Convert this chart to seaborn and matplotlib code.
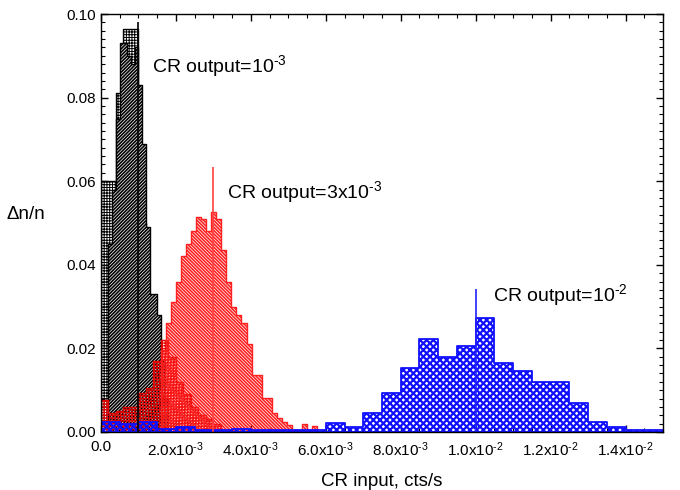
import numpy as np
import pandas as pd
import matplotlib
matplotlib.use('Agg')
import matplotlib.pyplot as plt
from matplotlib.ticker import MultipleLocator
import seaborn as sns

# Histograms: bin start and width in units of 1e-3 cts/s, then dn/n per bin
# CR output = 1e-3 (black, two overlapping histograms)
black_box_start, black_box_width = 0.0, 0.2
black_box_vals = [0.060, 0.060, 0.081, 0.0964, 0.0964, 0.050]
black_diag_start, black_diag_width = 0.2, 0.1
black_diag_vals = [0.045, 0.058, 0.075, 0.093, 0.093, 0.090, 0.088, 0.092,
                   0.083, 0.069, 0.049, 0.033, 0.033, 0.028, 0.017, 0.008]

# CR output = 3e-3 (red)
red_box_start, red_box_width = 0.0, 0.2
red_box_vals = [0.0077, 0.0045, 0.0050, 0.0060, 0.0060, 0.0093, 0.0105,
                0.017, 0.022, 0.018, 0.012, 0.009, 0.006, 0.004, 0.003, 0.002]
red_diag_start, red_diag_width = 1.59, 0.135
red_diag_vals = [0.0196, 0.026, 0.031, 0.036, 0.042, 0.045, 0.048, 0.0515,
                 0.051, 0.048, 0.0526, 0.051, 0.0435, 0.036, 0.030, 0.028,
                 0.026, 0.021, 0.0136, 0.0136, 0.0081, 0.0081, 0.0045, 0.0033,
                 0.0025, 0.0016, 0.0005, 0.0005, 0.002, 0.0005, 0.0015]

# CR output = 1e-2 (blue)
blue_start, blue_width = 0.0, 0.5
blue_vals = [0.0025, 0.0020, 0.0025, 0.0008, 0.0012, 0.0004, 0.0004, 0.0006,
             0.0004, 0.0004, 0.0004, 0.0004, 0.0021, 0.0012, 0.0045, 0.0093,
             0.0153, 0.0222, 0.018, 0.0206, 0.0272, 0.0166, 0.0146, 0.012,
             0.012, 0.0069, 0.0024, 0.0012, 0.0004, 0.0004]

# reference output rates and the heights of their marker lines
outputs = [1e-3, 3e-3, 1e-2]
output_tops = [0.098, 0.0635, 0.0342]
output_colors = ['black', '#ff4040', '#2020ff']
output_labels = [r'CR output=10$^{\text{-3}}$', r'CR output=3x10$^{\text{-3}}$',
                 r'CR output=10$^{\text{-2}}$']
label_pos = [(1.37e-3, 0.0862), (3.36e-3, 0.0560), (10.46e-3, 0.0313)]

xtick_vals = [0.0, 2e-3, 4e-3, 6e-3, 8e-3, 1.0e-2, 1.2e-2, 1.4e-2]
xtick_labels = ['0.0', r'2.0x10$^{\text{-3}}$', r'4.0x10$^{\text{-3}}$',
                r'6.0x10$^{\text{-3}}$', r'8.0x10$^{\text{-3}}$',
                r'1.0x10$^{\text{-2}}$', r'1.2x10$^{\text{-2}}$',
                r'1.4x10$^{\text{-2}}$']
ytick_vals = [0.0, 0.02, 0.04, 0.06, 0.08, 0.10]
ytick_labels = ['0.00', '0.02', '0.04', '0.06', '0.08', '0.10']


def draw_hist(ax, start, width, values, color, hatch, lw=1.0, face='none',
              hatch_lw=0.7):
    """Step histogram from per-bin values via seaborn weights."""
    edges = (start + width * np.arange(len(values) + 1)) * 1e-3
    centers = (edges[:-1] + edges[1:]) / 2
    df = pd.DataFrame({'x': centers, 'w': values})
    sns.histplot(data=df, x='x', weights='w', bins=edges.tolist(),
                 element='step', fill=True, color=color, facecolor=face,
                 edgecolor=color, hatch=hatch, linewidth=lw, ax=ax)
    art = ax.collections[-1]
    if hasattr(art, 'set_hatch_linewidth'):
        art.set_hatch_linewidth(hatch_lw)
    return art


sns.set_style('ticks')
plt.rcParams['font.family'] = ['Liberation Sans', 'DejaVu Sans']
plt.rcParams['mathtext.fontset'] = 'custom'
plt.rcParams['mathtext.rm'] = 'Liberation Sans'
plt.rcParams['mathtext.it'] = 'Liberation Sans:italic'
plt.rcParams['hatch.linewidth'] = 0.8
for key in ['text.color', 'axes.labelcolor', 'xtick.color', 'ytick.color',
            'axes.edgecolor']:
    plt.rcParams[key] = 'black'

fig = plt.figure(figsize=(6.8, 4.9), dpi=100)
ax = fig.add_axes([0.1485, 0.1184, 0.8265, 0.853])

draw_hist(ax, black_box_start, black_box_width, black_box_vals, 'black',
          '++++++', hatch_lw=0.7)
draw_hist(ax, black_diag_start, black_diag_width, black_diag_vals, 'black',
          '//////////', face='white', hatch_lw=1.2)
draw_hist(ax, red_box_start, red_box_width, red_box_vals, '#e00000',
          '++++++', hatch_lw=0.8)
draw_hist(ax, red_diag_start, red_diag_width, red_diag_vals, '#ff2020',
          '\\' * 10, hatch_lw=1.2)
draw_hist(ax, blue_start, blue_width, blue_vals, '#1010ff', 'xxxxx',
          lw=1.3, hatch_lw=1.6)

for xv, top, col in zip(outputs, output_tops, output_colors):
    ax.vlines(xv, 0, top, color=col, linewidth=1.2)

for (tx, ty), txt in zip(label_pos, output_labels):
    ax.text(tx, ty, txt, fontsize=14, va='baseline', ha='left')

ax.set_xlim(0, 0.015)
ax.set_ylim(0, 0.10)
ax.set_xticks(xtick_vals, xtick_labels)
ax.set_yticks(ytick_vals, ytick_labels)
ax.xaxis.set_minor_locator(MultipleLocator(0.5e-3))
ax.yaxis.set_minor_locator(MultipleLocator(0.002))
ax.tick_params(which='both', direction='in', top=True, right=True,
               labelsize=11, color='black', labelcolor='black')
ax.tick_params(axis='x', which='major', pad=6)
ax.tick_params(which='major', length=5, width=1)
ax.tick_params(which='minor', length=3, width=0.8)
for sp in ax.spines.values():
    sp.set_color('black')
    sp.set_linewidth(1.0)

ax.set_xlabel('CR input, cts/s', fontsize=13.5, labelpad=10)
ax.set_ylabel('\u0394n/n', fontsize=13.5, rotation=0, va='center',
              ha='center')
ax.yaxis.set_label_coords(-0.133, 0.52)

fig.savefig('out.png', dpi=100)
